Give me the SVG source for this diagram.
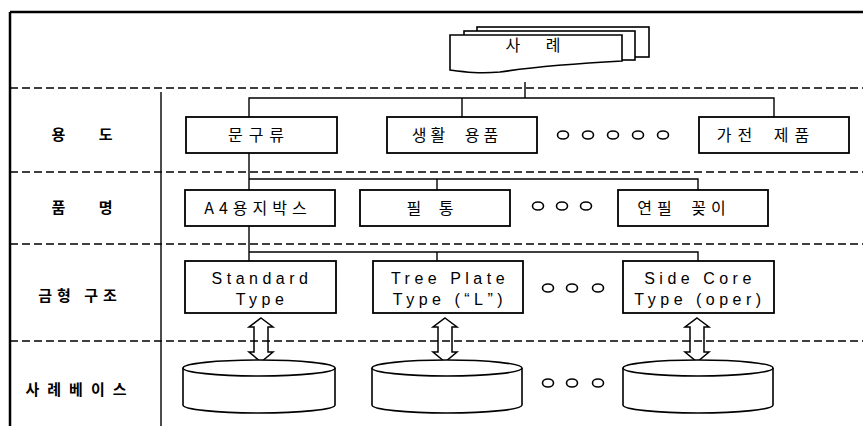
<svg xmlns="http://www.w3.org/2000/svg" width="863" height="426" viewBox="0 0 863 426">
<style>
.bg{fill:#fff}
.frame{stroke:#000;stroke-width:2.5;fill:none}
.dash{stroke:#000;stroke-width:1.5;stroke-dasharray:8 4;fill:none}
.line{stroke:#000;stroke-width:1.4;fill:none}
.box{fill:#fff;stroke:#000;stroke-width:1.8}
.shape{fill:#fff;stroke:#000;stroke-width:1.6}
.arrow{fill:none;stroke:#000;stroke-width:1.5;stroke-linejoin:miter}
.dot{fill:none;stroke:#000;stroke-width:1.6}
.ko{font-family:"Noto Sans CJK KR","Noto Sans",sans-serif;font-size:16px;fill:#000;text-anchor:middle}
.lab{font-family:"Noto Sans CJK KR","Noto Sans",sans-serif;font-size:15px;font-weight:bold;fill:#000;text-anchor:middle}
.en{font-family:"Liberation Sans",Arial,sans-serif;font-size:16px;fill:#000;text-anchor:middle;letter-spacing:4.5px}
</style>
<rect class="bg" x="0" y="0" width="863" height="426"/>
<g id="frame">
<line class="frame" x1="10" y1="12" x2="863" y2="12"/>
<line class="frame" x1="10" y1="12" x2="10" y2="426"/>
<line class="dash" x1="10" y1="88" x2="863" y2="88"/>
<line class="dash" x1="10" y1="172" x2="863" y2="172"/>
<line class="dash" x1="10" y1="244" x2="863" y2="244"/>
<line class="dash" x1="10" y1="341" x2="863" y2="341"/>
<line class="line" x1="161" y1="92" x2="161" y2="426"/>
</g>
<g id="labels">
<text class="lab" x="82" y="140" style="word-spacing:30px">용 도</text>
<text class="lab" x="82" y="213" style="word-spacing:30px">품 명</text>
<text class="lab" x="80" y="301" style="letter-spacing:5px">금형 구조</text>
<text class="lab" x="80" y="395" style="letter-spacing:8px">사례베이스</text>
</g>
<g id="connectors">
<line class="line" x1="525" y1="82" x2="525" y2="98"/>
<polyline class="line" points="249,117 249,98 774,98 774,117"/>
<line class="line" x1="462" y1="98" x2="462" y2="117"/>
<polyline class="line" points="249,153 249,190"/>
<polyline class="line" points="249,179 698,179 698,190"/>
<line class="line" x1="437" y1="179" x2="437" y2="190"/>
<polyline class="line" points="249,226 249,261"/>
<polyline class="line" points="249,252 698,252 698,261"/>
<line class="line" x1="437" y1="252" x2="437" y2="261"/>
<polygon class="arrow" points="261,318 273,327 268,327 268,352 273,352 261,362 249,352 254,352 254,327 249,327"/>
<polygon class="arrow" points="445,318 457,327 452,327 452,352 457,352 445,362 433,352 438,352 438,327 433,327"/>
<polygon class="arrow" points="697,318 709,327 704,327 704,352 709,352 697,362 685,352 690,352 690,327 685,327"/>
</g>
<g id="case">
<rect class="shape" x="477" y="27" width="172" height="30"/>
<rect class="shape" x="464" y="31" width="171" height="29"/>
<path class="shape" d="M450,35 H622 V61 C585,63 540,66 500,72 C480,74 465,72 450,70 Z"/>
<text class="ko" x="533" y="51" style="word-spacing:22px">사 례</text>
</g>
<g id="use-stationery"><rect class="box" x="186" y="117" width="151" height="36"/><text class="ko" x="259" y="141" style="letter-spacing:6px">문구류</text></g>
<g id="use-living"><rect class="box" x="387" y="117" width="150" height="36"/><text class="ko" x="457" y="141" style="letter-spacing:4px;word-spacing:8px">생활 용품</text></g>
<g id="use-dots">
<ellipse class="dot" cx="563" cy="135" rx="5.5" ry="4"/><ellipse class="dot" cx="588" cy="135" rx="5.5" ry="4"/><ellipse class="dot" cx="613" cy="135" rx="5.5" ry="4"/><ellipse class="dot" cx="638" cy="135" rx="5.5" ry="4"/><ellipse class="dot" cx="663" cy="135" rx="5.5" ry="4"/>
</g>
<g id="use-appliance"><rect class="box" x="699" y="117" width="150" height="36"/><text class="ko" x="766" y="141" style="letter-spacing:6px;word-spacing:6px">가전 제품</text></g>
<g id="item-a4"><rect class="box" x="185" y="190" width="150" height="36"/><text class="ko" x="258" y="214" style="letter-spacing:5px">A4용지박스</text></g>
<g id="item-pencase"><rect class="box" x="360" y="190" width="150" height="36"/><text class="ko" x="430" y="214" style="word-spacing:14px">필 통</text></g>
<g id="item-dots">
<ellipse class="dot" cx="538" cy="206" rx="5.5" ry="4"/><ellipse class="dot" cx="562" cy="206" rx="5.5" ry="4"/><ellipse class="dot" cx="586" cy="206" rx="5.5" ry="4"/>
</g>
<g id="item-holder"><rect class="box" x="618" y="190" width="150" height="36"/><text class="ko" x="684" y="214" style="letter-spacing:5px;word-spacing:6px">연필 꽂이</text></g>
<g id="mold-standard"><rect class="box" x="185" y="261" width="151" height="52"/><text class="en" x="262" y="284">Standard</text><text class="en" x="262" y="305">Type</text></g>
<g id="mold-tree"><rect class="box" x="373" y="261" width="150" height="52"/><text class="en" x="450" y="284">Tree Plate</text><text class="en" x="450" y="305">Type (“L”)</text></g>
<g id="mold-dots">
<ellipse class="dot" cx="548" cy="288" rx="5.5" ry="4"/><ellipse class="dot" cx="572" cy="288" rx="5.5" ry="4"/><ellipse class="dot" cx="598" cy="288" rx="5.5" ry="4"/>
</g>
<g id="mold-side"><rect class="box" x="623" y="261" width="151" height="52"/><text class="en" x="700" y="284">Side Core</text><text class="en" x="700" y="305">Type (oper)</text></g>
<g id="db-1"><path class="shape" d="M183,368 V405 A76,8 0 0 0 335,405 V368"/><ellipse class="shape" cx="259" cy="368" rx="76" ry="8"/></g>
<g id="db-2"><path class="shape" d="M372,368 V405 A75,8 0 0 0 522,405 V368"/><ellipse class="shape" cx="447" cy="368" rx="75" ry="8"/></g>
<g id="db-dots">
<ellipse class="dot" cx="548" cy="383" rx="5.5" ry="4"/><ellipse class="dot" cx="572" cy="383" rx="5.5" ry="4"/><ellipse class="dot" cx="598" cy="383" rx="5.5" ry="4"/>
</g>
<g id="db-3"><path class="shape" d="M623,368 V405 A75,8 0 0 0 773,405 V368"/><ellipse class="shape" cx="698" cy="368" rx="75" ry="8"/></g>
</svg>
